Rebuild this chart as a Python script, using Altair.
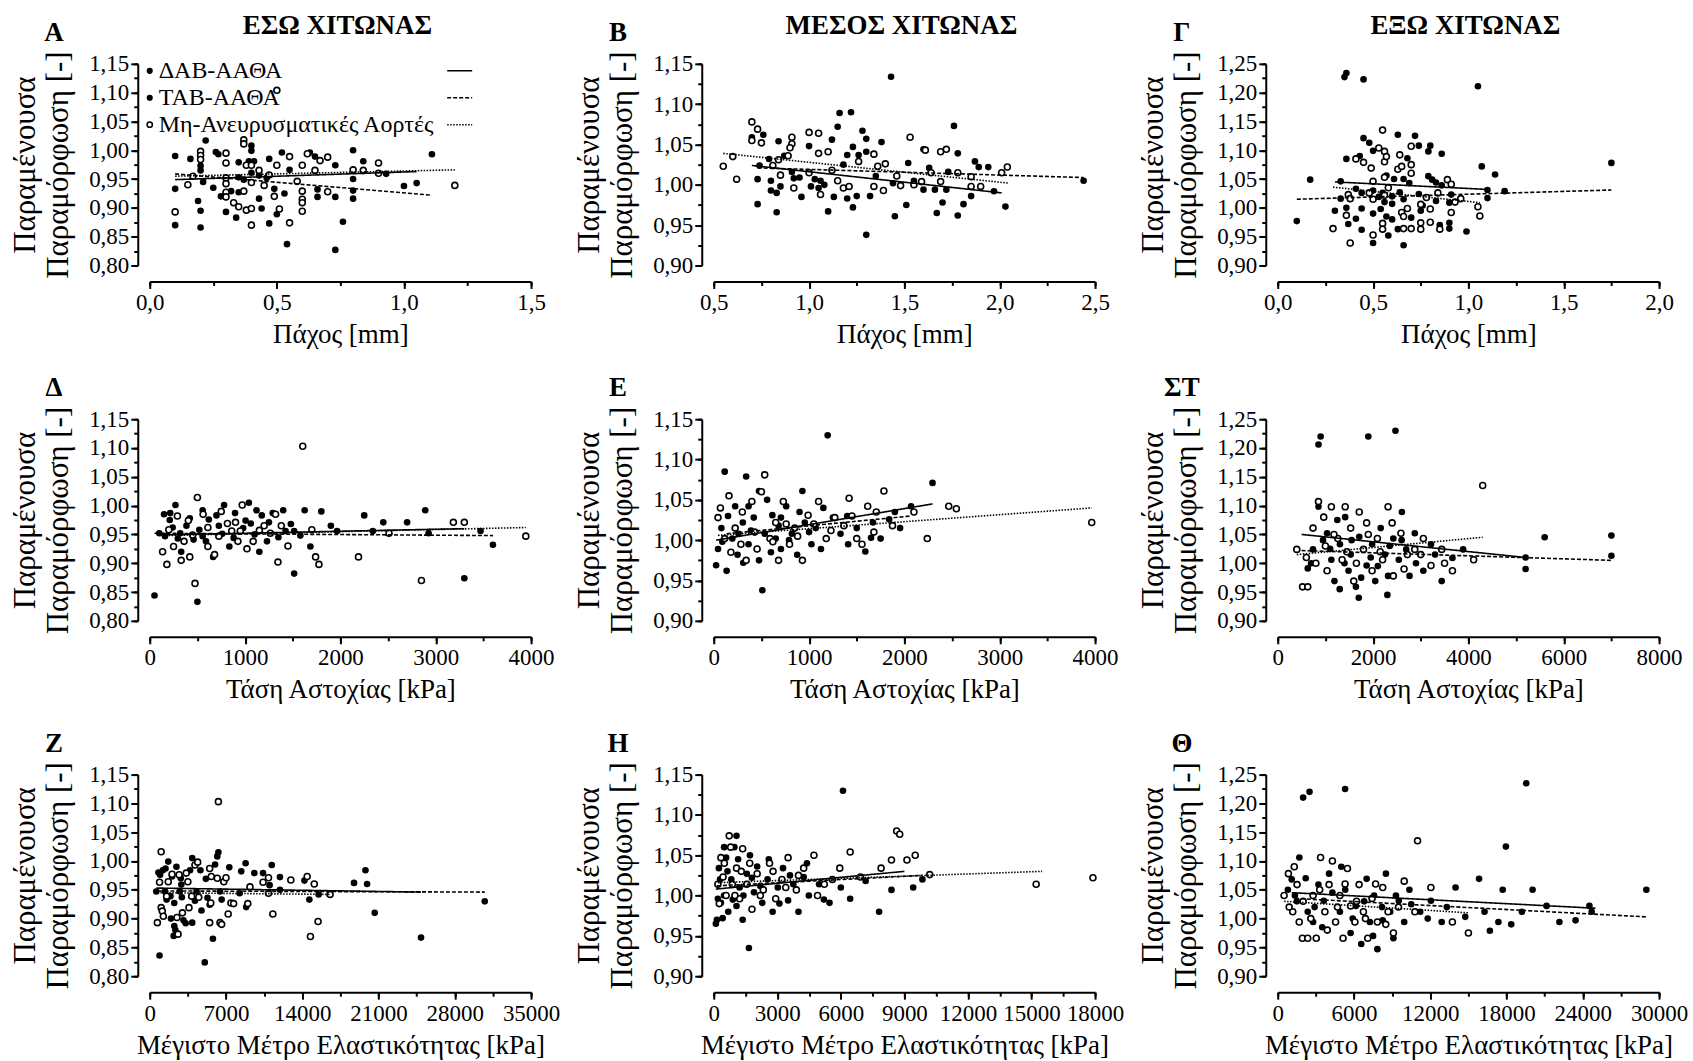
import altair as alt
import pandas as pd

FONT = "Liberation Serif"
G1, G2, G3 = "ΔΑΒ-ΑΑΘΑ", "ΤΑΒ-ΑΑΘΑ", "Μη-Ανευρυσματικές Αορτές"
GROUPS = [G1, G2, G3]

# ---------------- Panel Α : thickness, inner layer ----------------
A_dab = [(0.10,0.990),(0.10,0.870),(0.19,0.912),(0.20,0.866),(0.20,0.965),(0.22,1.017),(0.26,0.997),(0.28,0.920),
         (0.32,0.929),(0.35,0.979),(0.35,0.953),(0.40,1.008),(0.39,0.981),(0.41,0.981),(0.44,0.899),(0.47,0.873),
         (0.49,0.933),(0.52,0.996),(0.54,0.837),(0.63,0.996),(0.66,0.932),(0.73,0.974),(0.73,0.827),(0.80,1.000),
         (0.80,0.930),(0.84,0.981),(1.05,0.943)]
A_tab = [(0.10,0.933),(0.16,0.985),(0.20,0.895),(0.20,0.973),(0.21,0.945),(0.25,0.935),(0.27,0.993),(0.30,0.893),
         (0.34,0.883),(0.35,0.927),(0.37,0.949),(0.40,0.999),(0.40,0.961),(0.43,0.916),(0.43,0.956),(0.46,0.952),
         (0.47,0.985),(0.50,0.889),(0.53,0.925),(0.55,0.966),(0.65,0.989),(0.66,0.919),(0.73,0.919),(0.76,0.876),
         (0.80,0.950),(0.80,0.916),(0.93,0.959),(1.00,0.938),(1.11,0.993)]
A_non = [(0.10,0.893),(0.15,0.940),(0.17,0.955),(0.20,0.998),(0.20,0.991),(0.20,0.984),(0.30,0.995),(0.30,0.978),
         (0.30,0.952),(0.30,0.942),(0.30,0.927),(0.30,0.919),(0.33,0.909),(0.35,0.902),(0.37,1.018),(0.37,1.011),
         (0.37,0.929),(0.38,0.896),(0.38,0.974),(0.40,0.974),(0.40,0.870),(0.40,0.899),(0.40,0.944),(0.43,0.965),
         (0.45,0.939),(0.47,0.957),(0.49,0.920),(0.50,0.974),(0.50,1.104),(0.51,0.898),(0.55,0.989),(0.55,0.874),
         (0.58,0.946),(0.60,0.974),(0.60,0.929),(0.60,0.915),(0.60,0.909),(0.60,0.894),(0.62,0.994),(0.65,0.965),
         (0.67,0.982),(0.70,0.988),(0.70,0.928),(0.80,0.966),(0.84,0.965),(0.90,0.978),(0.90,0.960),(1.20,0.939)]
A_fit = [(G1, 0.10, 1.05, 0.949, 0.963), (G2, 0.10, 1.11, 0.959, 0.922), (G3, 0.10, 1.20, 0.955, 0.966)]

# ---------------- Panel Β : thickness, media ----------------
B_dab = [(0.70,1.059),(0.73,0.976),(0.79,1.032),(0.80,0.993),(0.83,0.966),(0.85,0.998),(0.91,1.016),(0.95,1.009),
         (1.00,1.048),(1.03,1.007),(1.06,1.005),(1.10,0.967),(1.13,0.985),(1.16,1.089),(1.20,0.983),(1.22,1.090),
         (1.23,0.972),(1.26,1.037),(1.30,1.057),(1.30,0.938),(1.35,1.011),(1.43,1.134),(1.45,0.961),(1.52,1.027),
         (1.60,0.994),(1.63,1.021),(1.67,0.965),(1.72,0.994),(1.78,1.039),(1.81,0.976),(1.87,1.029),(1.94,1.022),
         (2.03,0.973)]
B_tab = [(0.73,1.007),(0.76,1.062),(0.74,1.024),(0.80,1.005),(0.83,0.990),(0.84,1.054),(0.87,1.036),(0.92,1.008),
         (0.96,0.985),(1.01,0.998),(1.05,0.996),(1.08,1.000),(1.12,1.056),(1.15,1.072),(1.18,1.025),(1.20,1.037),
         (1.23,1.047),(1.25,0.986),(1.28,1.067),(1.30,1.041),(1.32,0.986),(1.38,1.053),(1.44,1.002),(1.51,0.975),
         (1.55,1.005),(1.60,1.044),(1.66,0.994),(1.70,0.978),(1.73,1.016),(1.76,1.073),(1.78,0.962),(1.85,0.986),
         (1.89,1.022),(1.97,0.992),(2.44,1.005)]
B_non = [(0.55,1.023),(0.60,1.035),(0.62,1.007),(0.70,1.078),(0.70,1.055),(0.73,1.069),(0.75,1.052),(0.81,1.024),
         (0.84,1.031),(0.85,1.012),(0.89,1.036),(0.91,1.059),(0.91,1.051),(0.90,1.046),(0.92,0.996),(1.00,1.065),
         (1.00,1.015),(1.05,1.064),(1.05,1.039),(1.06,0.988),(1.10,1.041),(1.12,1.018),(1.15,1.005),(1.18,0.996),
         (1.21,0.998),(1.26,1.029),(1.34,1.038),(1.34,0.998),(1.36,1.023),(1.39,0.993),(1.40,1.026),(1.46,1.011),
         (1.48,0.999),(1.53,1.059),(1.55,1.000),(1.59,1.004),(1.61,1.043),(1.64,1.015),(1.69,1.041),(1.69,1.004),
         (1.72,1.044),(1.78,1.015),(1.85,1.010),(1.85,0.998),(1.90,0.998),(2.01,1.015),(2.04,1.022)]
B_fit = [(G1, 0.70, 2.01, 1.024, 0.990), (G2, 0.73, 2.44, 1.021, 1.009), (G3, 0.55, 2.05, 1.039, 1.002)]

# ---------------- Panel Γ : thickness, adventitia ----------------
C_dab = [(0.10,0.977),(0.33,1.046),(0.35,1.227),(0.36,1.000),(0.41,0.981),(0.43,1.090),(0.44,0.999),(0.45,1.223),
         (0.48,1.113),(0.50,1.030),(0.50,0.939),(0.55,1.026),(0.57,1.056),(0.58,0.952),(0.60,0.980),(0.63,1.127),
         (0.64,1.027),(0.66,1.015),(0.68,1.086),(0.70,0.983),(0.74,1.108),(0.75,0.964),(0.76,1.004),(0.79,1.098),
         (0.81,1.049),(0.83,1.044),(0.86,1.039),(0.90,1.009),(0.90,0.964),(0.99,0.959),(1.07,1.072),(1.10,1.017),
         (0.60,1.020)]
C_tab = [(0.17,1.049),(0.30,0.995),(0.33,1.016),(0.36,1.234),(0.36,1.085),(0.37,0.972),(0.41,1.033),(0.44,1.026),
         (0.44,0.962),(0.45,1.121),(0.50,1.099),(0.50,0.990),(0.53,1.019),(0.56,1.010),(0.57,0.985),(0.60,1.007),
         (0.61,1.050),(0.63,0.963),(0.66,1.050),(0.66,0.935),(0.69,1.043),(0.72,1.125),(0.74,1.024),(0.75,0.995),
         (0.79,1.055),(0.80,1.108),(0.83,1.012),(0.85,0.970),(0.86,1.094),(0.90,0.974),(0.91,1.023),(1.05,1.211),
         (1.10,1.031),(1.14,1.058),(1.19,1.029),(1.75,1.078),(0.54,0.998)]
C_non = [(0.29,0.964),(0.36,0.987),(0.37,1.023),(0.38,0.939),(0.38,1.016),(0.41,1.085),(0.45,1.079),(0.48,1.026),
         (0.49,1.069),(0.50,1.015),(0.50,0.953),(0.50,1.046),(0.53,1.104),(0.56,1.098),(0.55,1.135),(0.56,1.053),
         (0.56,1.022),(0.56,1.080),(0.57,1.089),(0.55,0.973),(0.55,0.963),(0.58,1.035),(0.63,1.067),(0.64,1.092),
         (0.65,1.072),(0.65,0.992),(0.66,0.985),(0.66,0.964),(0.68,0.999),(0.70,1.107),(0.70,1.075),(0.70,1.060),
         (0.70,0.964),(0.75,1.006),(0.75,0.974),(0.75,0.963),(0.78,1.018),(0.80,0.975),(0.80,0.998),(0.84,1.026),
         (0.85,0.963),(0.89,1.049),(0.91,1.041),(0.91,0.992),(0.93,1.010),(0.96,1.016),(1.05,1.002),(1.06,0.986)]
C_fit = [(G1, 0.30, 1.10, 1.045, 1.032), (G2, 0.10, 1.75, 1.015, 1.031), (G3, 0.29, 1.06, 1.036, 1.009)]

# ---------------- Panel Δ : failure stress, inner ----------------
D_dab = [(50,0.844),(160,0.947),(270,1.001),(385,0.965),(555,0.992),(665,0.911),(780,1.001),(895,0.987),(1040,1.005),
         (1150,0.920),(1290,0.987),(1425,0.956),(1515,0.956),(1685,0.929),(1965,0.956),(2340,0.956),(2700,0.971),
         (2925,0.952),(3300,0.874),(295,0.943),(725,0.965),(1175,0.983),(150,0.985),(240,0.962),(420,0.978),
         (620,0.976),(880,0.944),(1100,0.950),(1350,0.945),(1580,0.948)]
D_tab = [(100,0.952),(215,0.987),(330,0.920),(500,0.833),(590,0.938),(700,0.983),(835,0.929),(1005,0.974),(1120,0.992),
         (1230,0.938),(1400,0.992),(1515,0.882),(1625,0.992),(1800,0.990),(2250,0.983),(2450,0.971),(2890,0.992),
         (3470,0.956),(3600,0.932),(555,0.947),(1060,0.969),(210,0.975),(320,0.952),(460,0.941),(520,0.958),
         (760,0.951),(980,0.961),(1250,0.971),(1480,0.968),(1900,0.965)]
D_non = [(135,0.920),(180,0.898),(250,0.929),(360,0.938),(405,0.974),(420,0.911),(475,0.865),(500,1.014),(610,0.962),
         (610,0.929),(725,0.947),(815,0.969),(860,0.956),(925,0.938),(950,0.956),(970,1.001),(1085,0.938),(1200,0.965),
         (1265,0.952),(1345,0.902),(1380,0.965),(1605,1.103),(1740,0.911),(1775,0.898),(2190,0.911),(2510,0.952),
         (2850,0.870),(3185,0.971),(3300,0.971),(3945,0.947),(200,0.958),(290,0.982),(330,0.905),(450,0.949),
         (560,0.985),(680,0.915),(750,0.990),(900,0.971),(1020,0.925),(1150,0.957),(1320,0.985),(1450,0.930),
         (1700,0.958)]
D_fit = [(G1, 100, 3300, 0.949, 0.960), (G2, 50, 3600, 0.952, 0.948), (G3, 135, 3945, 0.948, 0.962)]

# ---------------- Panel Ε : failure stress, media ----------------
E_dab = [(25,0.969),(80,1.015),(135,0.962),(225,1.042),(305,1.022),(365,0.995),(475,1.061),(535,1.008),(650,1.002),
         (760,1.042),(875,0.982),(955,1.022),(1070,1.015),(1195,1.130),(1330,1.008),(1500,1.015),(1670,1.022),
         (1840,1.026),(2070,1.042),(2295,1.071),(475,0.975),(90,0.998),(260,1.008),(390,1.012),(600,0.985),
         (790,1.000),(1000,1.010),(1400,1.030),(1900,1.035)]
E_tab = [(45,0.989),(115,1.085),(195,1.002),(250,0.982),(340,1.079),(420,1.028),(510,0.938),(615,1.031),(705,0.989),
         (820,1.008),(930,1.061),(1025,0.995),(1125,0.989),(1250,1.028),(1410,0.995),(1590,0.986),(1750,1.002),
         (1955,1.015),(365,1.042),(705,1.028),(150,1.030),(310,0.972),(560,1.050),(680,1.018),(900,1.035),
         (1150,1.040),(1650,1.003)]
E_non = [(45,1.028),(115,1.002),(160,1.055),(225,1.015),(285,0.995),(340,0.975),(400,1.048),(455,0.989),(535,1.081),
         (590,1.002),(650,1.022),(680,0.975),(730,1.048),(795,0.995),(850,1.015),(930,0.975),(990,1.031),(1100,1.048),
         (1180,1.002),(1270,1.028),(1365,1.018),(1420,1.052),(1500,1.002),(1555,0.995),(1615,1.042),(1705,1.035),
         (1785,1.061),(1875,1.018),(2100,1.035),(2240,1.002),(2465,1.042),(2545,1.039),(3965,1.022),(70,1.040),
         (180,0.985),(300,1.035),(430,1.010),(500,1.060),(620,0.998),(760,1.020),(880,1.005),(1050,1.020),
         (1230,1.012),(1450,1.030),(1680,1.010)]
E_fit = [(G1, 25, 2295, 1.000, 1.045), (G2, 135, 2070, 1.008, 1.030), (G3, 45, 3965, 1.006, 1.040)]

# ---------------- Panel ΣΤ : failure stress, adventitia ----------------
S_dab = [(630,0.991),(855,1.098),(900,1.220),(1125,1.006),(1305,1.033),(1485,0.987),(1640,0.959),(1900,1.220),
         (1980,1.033),(2160,1.061),(2315,0.978),(2470,1.230),(2605,1.089),(2765,0.978),(3055,0.987),(3440,0.969),
         (3890,1.024),(5200,1.010),(5600,1.045),(2300,0.945),(1300,0.955),(700,1.000),(1100,1.025),(1400,1.000),
         (1750,0.975),(2100,0.995),(2600,1.040),(3300,1.015)]
S_tab = [(740,1.024),(855,1.206),(1035,1.052),(1190,0.969),(1415,1.080),(1530,1.015),(1710,1.046),(1865,0.996),
         (2045,0.969),(2250,1.015),(2425,1.043),(2540,1.006),(2695,1.024),(2875,1.052),(3215,1.033),(3665,1.009),
         (5200,0.990),(7000,1.048),(7000,1.013),(1700,0.940),(950,1.040),(1250,1.075),(1550,1.040),(1950,1.010),
         (2350,1.030),(2900,1.000)]
S_non = [(400,1.024),(520,0.959),(630,0.959),(740,1.061),(855,1.107),(965,1.080),(1035,0.987),(1125,1.098),(1260,1.043),
         (1350,1.006),(1415,1.098),(1530,1.061),(1595,0.969),(1710,1.089),(1800,1.024),(1865,1.070),(1980,0.987),
         (2090,1.043),(2200,1.006),(2315,1.098),(2425,0.978),(2585,1.052),(2720,1.015),(2875,1.024),(3055,1.043),
         (3215,0.996),(3440,1.024),(3665,0.987),(4110,1.006),(4300,1.135),(600,1.010),(800,1.000),(1000,1.030),
         (1180,1.050),(1450,1.020),(1650,1.000),(1900,1.050),(2150,1.020),(2400,1.070),(2650,0.990),(3000,1.015),
         (3500,1.000)]
S_fit = [(G1, 500, 5200, 1.050, 1.010), (G2, 500, 7000, 1.022, 1.005), (G3, 400, 4300, 1.015, 1.045)]

# ---------------- Panel Ζ : max elastic modulus, inner ----------------
Z_dab = [(600,0.947),(900,0.836),(1200,0.984),(1400,0.947),(1700,0.999),(1950,0.900),(2200,0.870),(2350,0.880),
         (2450,0.990),(2850,0.970),(2950,0.937),(3300,0.892),(3900,1.005),(4150,0.931),(4650,0.984),(5050,0.824),
         (5300,0.936),(5800,0.865),(6200,1.008),(6450,0.947),(7300,0.989),(8400,0.982),(8850,0.920),(10400,0.979),
         (11200,0.993),(11950,0.950),(14650,0.933),(18750,0.962),(19950,0.960),(24900,0.867)]
Z_tab = [(800,0.980),(950,0.976),(1450,0.987),(1550,0.933),(1900,0.939),(2050,0.973),(2250,0.887),(2250,0.927),
         (2750,0.947),(2900,0.959),(3100,0.897),(3700,0.984),(3900,0.893),(4300,0.947),(4750,0.914),(5150,0.969),
         (5500,0.924),(6000,0.994),(6300,1.015),(6600,0.933),(8250,0.944),(8800,0.996),(9600,0.979),(11000,0.958),
         (11950,0.972),(14200,0.966),(15500,0.942),(19800,0.984),(20650,0.910),(30750,0.930)]
Z_non = [(700,0.893),(1050,1.016),(900,0.963),(1050,0.919),(1150,0.913),(1250,0.904),(1550,0.939),(1700,0.964),
         (2050,0.977),(2500,0.902),(2600,0.873),(2700,0.976),(3000,0.910),(3350,0.979),(3500,0.964),(3600,0.919),
         (3850,0.939),(4150,0.993),(4400,0.998),(4500,0.937),(5500,0.987),(5600,0.927),(5650,0.973),(5500,0.893),
         (6300,1.103),(6200,0.970),(6450,0.893),(6600,0.890),(6800,0.964),(7000,0.971),(7200,0.908),(7450,0.927),
         (7700,0.926),(9000,0.926),(9200,0.955),(10400,0.963),(10900,0.971),(11300,0.908),(10900,0.944),(12950,0.967),
         (14450,0.973),(15100,0.960),(14750,0.869),(15450,0.895),(16550,0.942)]
Z_fit = [(G1, 600, 24900, 0.953, 0.946), (G2, 800, 30750, 0.948, 0.946), (G3, 700, 16550, 0.945, 0.942)]

# ---------------- Panel Η : max elastic modulus, media ----------------
H_dab = [(195,0.996),(340,0.991),(585,1.047),(830,1.020),(1075,0.987),(1365,0.970),(1710,1.050),(1900,1.004),
         (2290,0.991),(2780,0.980),(3270,1.034),(3755,1.014),(4245,1.023),(4975,1.014),(6100,1.130),(7170,1.018),
         (8390,1.007),(9850,1.020),(1075,1.074),(100,0.965),(300,1.020),(650,1.030),(1150,1.045),(1800,1.022),
         (2600,1.045),(3600,1.025),(5200,0.995)]
H_tab = [(245,1.034),(490,1.000),(685,0.980),(975,1.060),(1220,1.010),(1560,1.027),(1660,0.935),(2050,1.036),
         (2540,1.020),(3025,1.010),(3510,0.994),(4000,0.980),(4490,1.000),(5465,0.991),(6440,0.996),(7805,0.980),
         (9415,1.010),(490,1.060),(150,0.970),(420,0.972),(900,0.995),(1400,1.000),(2200,1.012),(3100,0.990),
         (4400,1.040),(6000,1.010)]
H_non = [(195,1.014),(340,1.047),(440,1.023),(585,1.000),(730,1.074),(880,1.014),(1075,1.034),(1220,0.996),(1365,1.058),
         (1560,1.014),(1805,0.983),(2050,1.027),(2340,1.007),(2635,1.040),(2925,0.996),(3220,1.020),(3510,1.047),
         (3900,1.007),(4245,1.034),(4730,1.050),(5220,1.014),(5950,1.034),(6440,1.054),(6925,1.023),(7900,1.034),
         (8390,1.044),(8635,1.080),(8780,1.076),(9120,1.044),(9510,1.050),(10195,1.026),(15220,1.014),(17900,1.022),
         (260,0.990),(500,1.040),(800,1.060),(1000,1.000),(1300,1.030),(1700,1.040),(2200,1.000),(2800,1.030),
         (3400,1.010),(4000,1.025),(4900,1.000),(5600,1.020)]
H_fit = [(G1, 100, 9000, 1.008, 1.030), (G2, 150, 9850, 1.012, 1.025), (G3, 195, 15500, 1.016, 1.030)]

# ---------------- Panel Θ : max elastic modulus, adventitia ----------------
T_dab = [(1100,1.068),(1700,1.106),(2000,1.210),(2780,0.994),(3620,1.031),(4890,1.012),(5730,0.975),(6570,0.956),
         (7250,0.994),(7840,0.947),(8510,1.078),(9100,0.966),(9950,0.994),(11210,1.012),(12900,0.994),(14750,1.003),
         (16270,1.012),(17360,0.994),(17950,1.125),(19550,1.235),(21150,1.022),(23430,0.997),(24700,1.012),
         (800,1.050),(2200,1.070),(3500,0.985),(5000,1.090),(6800,1.030),(8200,1.020),(10500,1.025),(13300,1.020)]
T_tab = [(1350,1.040),(2360,1.012),(2500,1.220),(3200,1.059),(4040,1.078),(5300,1.225),(5310,1.050),(6150,1.022),
         (6995,1.069),(7580,1.040),(8260,0.997),(8850,1.012),(9520,1.031),(10360,1.050),(12050,1.031),(13990,1.054),
         (15840,1.069),(16690,0.979),(17700,1.050),(18370,0.990),(19210,1.012),(20050,1.050),(22160,0.994),
         (24520,1.022),(29000,1.050),(1500,1.030),(2900,1.020),(4300,1.045),(5900,1.000),(7500,0.970),(9300,1.040),
         (11800,1.000)]
T_non = [(500,1.040),(840,1.078),(1180,1.012),(1520,1.059),(1690,0.994),(1940,0.966),(2360,0.966),(2780,1.040),
         (3030,0.966),(3370,1.106),(3710,1.012),(4040,1.059),(4300,1.100),(4550,0.994),(4890,1.040),(5140,0.966),
         (5480,1.087),(5730,1.022),(6070,0.994),(6400,1.059),(6740,1.012),(7080,0.966),(7420,1.035),(7840,0.994),
         (8260,1.054),(8680,1.012),(9100,0.975),(9950,1.065),(10790,1.012),(11000,1.135),(12050,1.054),(13740,0.994),
         (15000,0.975),(900,1.020),(1300,1.090),(2000,1.030),(2600,1.000),(3300,1.050),(3900,0.980),(4700,1.020),
         (5300,1.060),(6200,1.030),(6900,1.000),(7700,1.060),(8500,0.990),(9500,1.020)]
T_fit = [(G1, 1100, 25000, 1.045, 1.018), (G2, 1350, 29000, 1.035, 1.003), (G3, 500, 15000, 1.030, 1.010)]

COL_TITLES = ["ΕΣΩ ΧΙΤΩΝΑΣ", "ΜΕΣΟΣ ΧΙΤΩΝΑΣ", "ΕΞΩ ΧΙΤΩΝΑΣ"]
ROW_XTITLES = ["Πάχος [mm]", "Τάση Αστοχίας [kPa]", "Μέγιστο Μέτρο Ελαστικότητας [kPa]"]
Y_TITLE = ["Παραμένουσα", "Παραμόρφωση [-]"]

W, H = 382, 202
TICK_FONT = 23
XTITLE_FONT = 27
YTITLE_FONT = 31


def tick_values(lo, hi, step):
    n = int(round((hi - lo) / step))
    return [round(lo + i * step, 6) for i in range(n + 1)]


def panel(letter, dab, tab, non, fit, xdom, xstep, decimal_x, ydom, xtitle, coltitle=None, legend=False):
    rows = [(x, y, G1) for x, y in dab] + [(x, y, G2) for x, y in tab] + [(x, y, G3) for x, y in non]
    df = pd.DataFrame(rows, columns=["x", "y", "g"])
    lines = []
    for g, x0, x1, y0, y1 in fit:
        lines.append((g, x0, y0))
        lines.append((g, x1, y1))
    ldf = pd.DataFrame(lines, columns=["g", "x", "y"])

    xs = alt.Scale(domain=xdom, nice=False, zero=False)
    ys = alt.Scale(domain=ydom, nice=False, zero=False)
    if decimal_x:
        xlab = "replace(format(datum.value, '.1f'), '.', ',')"
    else:
        xlab = "format(datum.value, 'd')"
    ylab = "replace(format(datum.value, '.2f'), '.', ',')"

    xaxis = alt.Axis(values=tick_values(xdom[0], xdom[1], xstep), labelExpr=xlab, orient="bottom", offset=16,
                     tickSize=7, tickWidth=2, tickColor="black", domainWidth=2, domainColor="black", grid=False,
                     labelFont=FONT, labelFontSize=TICK_FONT, labelColor="black", labelPadding=3,
                     labelOverlap=False, labelFlush=False,
                     title=xtitle, titleFont=FONT, titleFontSize=XTITLE_FONT, titleFontWeight="normal",
                     titleColor="black", titlePadding=7)
    yaxis = alt.Axis(values=tick_values(ydom[0], ydom[1], 0.05), labelExpr=ylab, orient="left", offset=12,
                     tickSize=7, tickWidth=2, tickColor="black", domainWidth=2, domainColor="black", grid=False,
                     labelFont=FONT, labelFontSize=TICK_FONT, labelColor="black", labelPadding=2,
                     labelOverlap=False, labelFlush=False,
                     title=Y_TITLE, titleFont=FONT, titleFontSize=YTITLE_FONT, titleFontWeight="normal",
                     titleColor="black", titlePadding=14, titleLineHeight=33)
    xaxis_m = alt.Axis(values=tick_values(xdom[0], xdom[1], xstep / 2), labels=False, domain=False,
                       orient="bottom", offset=16, tickSize=4, tickWidth=2, tickColor="black", grid=False,
                       title=None)
    yaxis_m = alt.Axis(values=tick_values(ydom[0], ydom[1], 0.025), labels=False, domain=False,
                       orient="left", offset=12, tickSize=4, tickWidth=2, tickColor="black", grid=False,
                       title=None)

    base = alt.Chart(df)
    filled = base.transform_filter(alt.datum.g != G3).mark_circle(size=44, color="black", opacity=1).encode(
        x=alt.X("x:Q", scale=xs, axis=xaxis),
        y=alt.Y("y:Q", scale=ys, axis=yaxis),
    )
    opened = base.transform_filter(alt.datum.g == G3).mark_point(
        shape="circle", size=36, filled=True, fill="white", stroke="black", strokeWidth=1.6, opacity=1
    ).encode(
        x=alt.X("x:Q", scale=xs, axis=xaxis_m),
        y=alt.Y("y:Q", scale=ys, axis=yaxis_m),
    )
    fits = alt.Chart(ldf).mark_line(color="black", strokeWidth=1.6).encode(
        x=alt.X("x:Q", scale=xs, axis=None),
        y=alt.Y("y:Q", scale=ys, axis=None),
        detail="g:N",
        strokeDash=alt.StrokeDash("g:N", scale=alt.Scale(domain=GROUPS, range=[[1, 0], [4, 2], [1.5, 1.5]]),
                                  legend=None),
    )
    layers = [filled, opened, fits]

    lab = alt.Chart(pd.DataFrame({"t": [letter]})).mark_text(
        font=FONT, fontSize=27, fontWeight="bold", color="black", align="center", baseline="middle"
    ).encode(x=alt.value(-96), y=alt.value(-31), text="t:N")
    layers.append(lab)
    if coltitle:
        ct = alt.Chart(pd.DataFrame({"t": [coltitle]})).mark_text(
            font=FONT, fontSize=27, fontWeight="bold", color="black", align="center", baseline="middle"
        ).encode(x=alt.value(188), y=alt.value(-38), text="t:N")
        layers.append(ct)
    if legend:
        rows_y = [7, 34, 61]
        dashes = [[1, 0], [4, 2], [1.5, 1.5]]
        for i, g in enumerate(GROUPS):
            if i < 2:
                sym = alt.Chart(pd.DataFrame({"g": [g]})).mark_circle(size=38, color="black", opacity=1).encode(
                    x=alt.value(0), y=alt.value(rows_y[i]))
            else:
                sym = alt.Chart(pd.DataFrame({"g": [g]})).mark_point(
                    shape="circle", size=28, filled=True, fill="white", stroke="black", strokeWidth=1.5, opacity=1
                ).encode(x=alt.value(0), y=alt.value(rows_y[i]))
            txt = alt.Chart(pd.DataFrame({"g": [g]})).mark_text(
                font=FONT, fontSize=24, color="black", align="left", baseline="middle"
            ).encode(x=alt.value(9), y=alt.value(rows_y[i]), text="g:N")
            rule = alt.Chart(pd.DataFrame({"g": [g]})).mark_rule(
                color="black", strokeWidth=1.6, strokeDash=dashes[i]
            ).encode(x=alt.value(298), x2=alt.value(323), y=alt.value(rows_y[i]))
            layers += [sym, txt, rule]

    return alt.layer(*layers).resolve_axis(x="independent", y="independent").properties(width=W, height=H)


panels = [
    panel("Α", A_dab, A_tab, A_non, A_fit, [0, 1.5], 0.5, True, [0.80, 1.15], ROW_XTITLES[0], COL_TITLES[0], legend=True),
    panel("Β", B_dab, B_tab, B_non, B_fit, [0.5, 2.5], 0.5, True, [0.90, 1.15], ROW_XTITLES[0], COL_TITLES[1]),
    panel("Γ", C_dab, C_tab, C_non, C_fit, [0, 2.0], 0.5, True, [0.90, 1.25], ROW_XTITLES[0], COL_TITLES[2]),
    panel("Δ", D_dab, D_tab, D_non, D_fit, [0, 4000], 1000, False, [0.80, 1.15], ROW_XTITLES[1]),
    panel("Ε", E_dab, E_tab, E_non, E_fit, [0, 4000], 1000, False, [0.90, 1.15], ROW_XTITLES[1]),
    panel("ΣΤ", S_dab, S_tab, S_non, S_fit, [0, 8000], 2000, False, [0.90, 1.25], ROW_XTITLES[1]),
    panel("Ζ", Z_dab, Z_tab, Z_non, Z_fit, [0, 35000], 7000, False, [0.80, 1.15], ROW_XTITLES[2]),
    panel("Η", H_dab, H_tab, H_non, H_fit, [0, 18000], 3000, False, [0.90, 1.15], ROW_XTITLES[2]),
    panel("Θ", T_dab, T_tab, T_non, T_fit, [0, 30000], 6000, False, [0.90, 1.25], ROW_XTITLES[2]),
]

chart = alt.concat(*panels, columns=3, spacing={"row": 154, "column": 183}, bounds="flush").properties(
    padding={"left": 9, "top": 11, "right": 5, "bottom": 5}
).configure(font=FONT, background="white").configure_view(stroke=None)

chart.save("out.html", embed_options={"renderer": "svg", "actions": False})
